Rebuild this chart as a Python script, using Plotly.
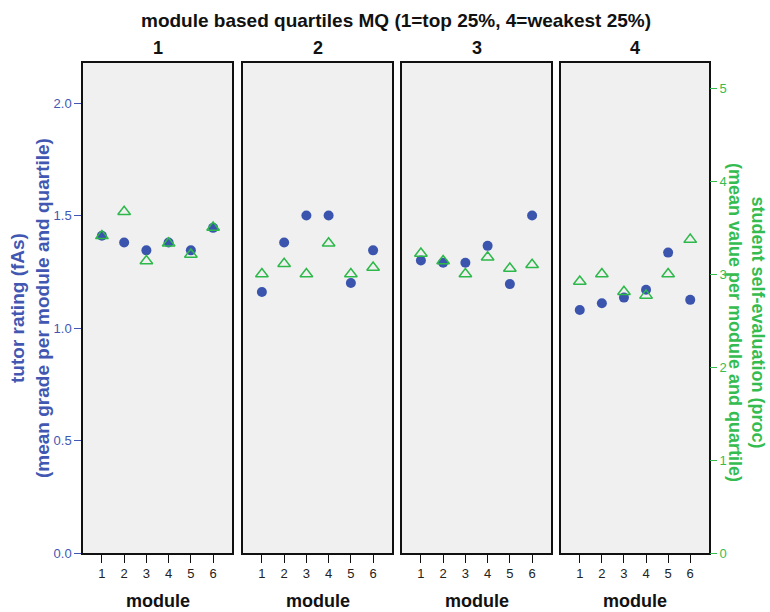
import plotly.graph_objects as go

# ---- data ----
quartiles = ["1", "2", "3", "4"]
modules = [1, 2, 3, 4, 5, 6]
tutor_q1 = [1.41, 1.38, 1.345, 1.38, 1.345, 1.445]
tutor_q2 = [1.16, 1.38, 1.50, 1.50, 1.20, 1.345]
tutor_q3 = [1.30, 1.29, 1.29, 1.365, 1.195, 1.50]
tutor_q4 = [1.08, 1.11, 1.135, 1.17, 1.335, 1.125]
self_q1 = [3.41, 3.67, 3.14, 3.33, 3.21, 3.50]
self_q2 = [3.00, 3.11, 3.00, 3.33, 3.00, 3.07]
self_q3 = [3.22, 3.14, 3.00, 3.18, 3.06, 3.10]
self_q4 = [2.92, 3.00, 2.81, 2.77, 3.00, 3.37]
tutor_all = [tutor_q1, tutor_q2, tutor_q3, tutor_q4]
self_all = [self_q1, self_q2, self_q3, self_q4]

BLUE = "#3B55AE"
BLUE_TXT = "#4157B2"
GREEN = "#2DB84A"
GREEN_TXT = "#35BC50"
FONT = "Liberation Sans, Arial, sans-serif"

W, H = 770, 612
L, R, T, B = 83, 61, 63, 59
pw = W - L - R
ph = H - T - B
panels_px = [(0, 149), (160, 309), (319, 468), (478, 626)]
domains = [[a / pw, b / pw] for a, b in panels_px]

fig = go.Figure()
for i in range(4):
    xa = "x" if i == 0 else f"x{i+1}"
    ya = "y" if i == 0 else f"y{i+1}"
    yr = f"y{i+5}"
    fig.add_trace(go.Scatter(
        x=modules, y=tutor_all[i], mode="markers", xaxis=xa, yaxis=ya,
        marker=dict(symbol="circle", size=10, color=BLUE), showlegend=False))
    fig.add_trace(go.Scatter(
        x=modules, y=self_all[i], mode="markers", xaxis=xa, yaxis=yr,
        marker=dict(symbol="triangle-up-open", size=11, color=GREEN,
                    line=dict(color=GREEN, width=1.5)), showlegend=False))

LRANGE = [0, 490 / 225]
RRANGE = [0, 490 / 93]
layout = dict(
    width=W, height=H, margin=dict(l=L, r=R, t=T, b=B),
    paper_bgcolor="white", plot_bgcolor="#F0F0F0",
    font=dict(family=FONT, size=12, color="#222"),
    showlegend=False,
)
for i in range(4):
    key = "xaxis" if i == 0 else f"xaxis{i+1}"
    layout[key] = dict(
        domain=domains[i], range=[0.15, 6.85], anchor="y" if i == 0 else f"y{i+1}",
        tickmode="array", tickvals=modules, ticktext=[str(m) for m in modules],
        ticks="outside", ticklen=8, tickwidth=1.2, tickcolor="#111",
        showline=True, linecolor="#111", linewidth=1.5, mirror=True,
        showgrid=False, zeroline=False,
        tickfont=dict(family=FONT, size=13, color="#222"),
    )
# left axes
layout["yaxis"] = dict(
    range=LRANGE, anchor="x", tickmode="linear", tick0=0, dtick=0.5, tickformat=".1f",
    ticks="outside", ticklen=7, tickwidth=1.2, tickcolor=BLUE_TXT,
    showline=True, linecolor="#111", linewidth=1.5, mirror=True,
    showgrid=False, zeroline=False,
    tickfont=dict(family=FONT, size=13, color=BLUE_TXT),
)
for i in range(1, 4):
    layout[f"yaxis{i+1}"] = dict(
        range=LRANGE, anchor=f"x{i+1}", matches="y", showticklabels=False, ticks="",
        showline=True, linecolor="#111", linewidth=1.5, mirror=True,
        showgrid=False, zeroline=False,
    )
# right axes (overlaying)
for i in range(4):
    base = "y" if i == 0 else f"y{i+1}"
    xa = "x" if i == 0 else f"x{i+1}"
    d = dict(range=RRANGE, overlaying=base, anchor=xa, side="right",
             showgrid=False, zeroline=False, showline=False)
    if i == 3:
        d.update(tickmode="linear", tick0=0, dtick=1, ticks="outside", ticklen=7,
                 tickwidth=1.2, tickcolor=GREEN_TXT,
                 tickfont=dict(family=FONT, size=13, color=GREEN_TXT))
    else:
        d.update(showticklabels=False, ticks="")
    layout[f"yaxis{i+5}"] = d

ann = []
ann.append(dict(text="<b>module based quartiles MQ (1=top 25%, 4=weakest 25%)</b>",
                x=(396 - L) / pw, y=(H - B - 20) / ph, xref="paper", yref="paper",
                xanchor="center", yanchor="middle", showarrow=False,
                font=dict(family=FONT, size=19, color="#111")))
for i, q in enumerate(quartiles):
    cx = (domains[i][0] + domains[i][1]) / 2
    ann.append(dict(text=f"<b>{q}</b>", x=cx, y=(H - B - 48) / ph, xref="paper", yref="paper",
                    xanchor="center", yanchor="middle", showarrow=False,
                    font=dict(family=FONT, size=18, color="#111")))
    ann.append(dict(text="<b>module</b>", x=cx, y=(H - B - 601) / ph, xref="paper", yref="paper",
                    xanchor="center", yanchor="middle", showarrow=False,
                    font=dict(family=FONT, size=18, color="#111")))
ann.append(dict(text="<b>tutor rating (fAs)<br>(mean grade per module and quartile)</b>",
                x=(30 - L) / pw, y=(H - B - 308) / ph, xref="paper", yref="paper",
                xanchor="center", yanchor="middle", showarrow=False, textangle=-90,
                font=dict(family=FONT, size=19, color=BLUE_TXT)))
ann.append(dict(text="<b>student self-evaluation (proc)<br>(mean value per module and quartile)</b>",
                x=(747 - L) / pw, y=(H - B - 322) / ph, xref="paper", yref="paper",
                xanchor="center", yanchor="middle", showarrow=False, textangle=90,
                font=dict(family=FONT, size=18, color=GREEN_TXT)))
layout["annotations"] = ann

fig.update_layout(**layout)
fig.write_html("out.html")
